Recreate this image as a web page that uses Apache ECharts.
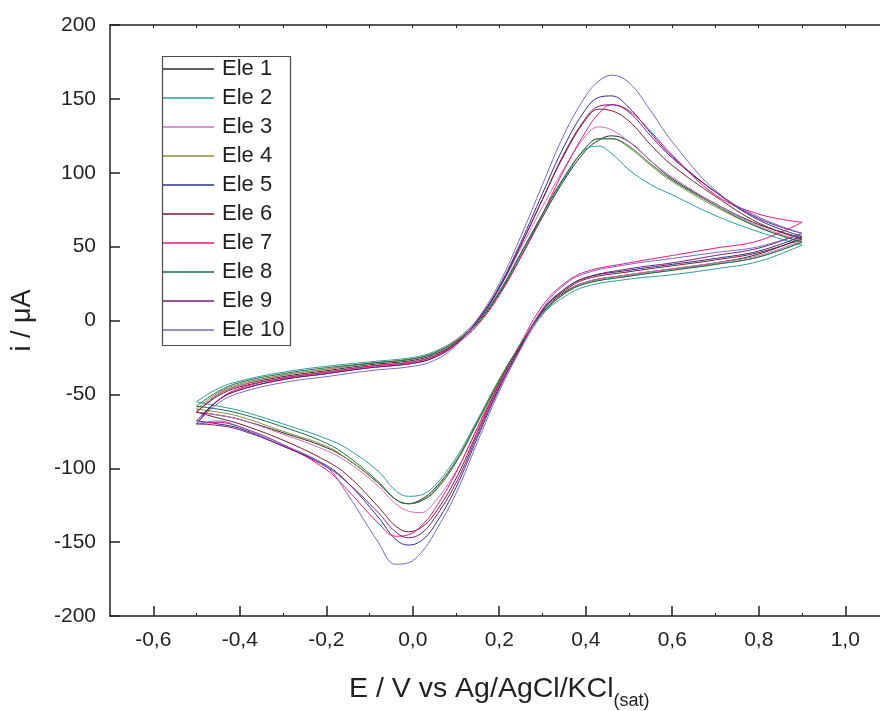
<!DOCTYPE html>
<html><head><meta charset="utf-8">
<script src="https://cdn.jsdelivr.net/npm/echarts@6/dist/echarts.min.js"></script>
<style>html,body{margin:0;padding:0;background:#fff}#c{width:880px;height:711px}</style>
</head><body><div id="c"></div>
<script>
// Potential grids (V) for forward (anodic) and reverse (cathodic) sweeps
const fwdE = [-0.5,-0.45,-0.4,-0.3,-0.2,-0.1,0,0.05,0.1,0.15,0.2,0.25,0.3,0.35,0.4,0.43,0.46,0.5,0.55,0.6,0.7,0.8,0.9];
const revE = [0.9,0.8,0.7,0.6,0.5,0.4,0.35,0.3,0.25,0.2,0.15,0.1,0.05,0.02,-0.01,-0.04,-0.08,-0.15,-0.2,-0.3,-0.4,-0.45,-0.5];

// Currents (µA)
const ele1Fwd = [-62,-50,-44,-38,-34,-30,-27,-23,-15,-2,18,43,70,95,115,122,125,121,108,96,79,65,56];
const ele1Rev = [56,45,39,35,31,26,19,6,-16,-40,-68,-95,-114,-121,-124,-121,-110,-94,-86,-76,-67,-64,-62];
const ele2Fwd = [-55,-46,-41,-35,-31,-28,-25,-21,-13,0,20,46,72,96,116,118,113,102,92,85,71,60,51];
const ele2Rev = [51,40,35,31,28,23,16,4,-17,-40,-67,-93,-112,-118,-119,-115,-102,-87,-80,-70,-61,-58,-55];
const ele3Fwd = [-62,-50,-44,-37,-33,-29,-26,-22,-13,1,22,49,77,103,125,131,129,121,108,97,79,64,54];
const ele3Rev = [54,44,39,35,31,26,18,4,-19,-44,-73,-102,-123,-130,-129,-124,-112,-96,-88,-77,-67,-64,-62];
const ele4Fwd = [-60,-49,-43,-37,-33,-29,-26,-22,-14,-1,19,45,72,97,117,123,123,117,105,94,77,63,53];
const ele4Rev = [53,43,38,34,30,25,18,5,-16,-40,-68,-95,-115,-122,-124,-121,-110,-94,-85,-75,-65,-62,-60];
const ele5Fwd = [-68,-54,-47,-40,-36,-32,-29,-25,-16,0,23,53,86,118,143,151,152,144,127,111,87,68,57];
const ele5Rev = [57,47,42,38,34,29,21,7,-18,-46,-79,-113,-139,-149,-152,-148,-133,-110,-98,-85,-73,-70,-68];
const ele6Fwd = [-62,-51,-45,-39,-35,-31,-28,-24,-15,0,22,51,82,112,136,143,142,135,119,105,84,66,55];
const ele6Rev = [55,46,41,37,33,28,20,7,-17,-43,-75,-107,-131,-140,-143,-139,-126,-105,-95,-81,-70,-66,-62];
const ele7Fwd = [-70,-54,-46,-39,-35,-31,-28,-24,-16,-3,17,43,72,102,128,140,146,142,128,112,85,72,66.5];
const ele7Rev = [66.5,54,49,44,39,33,25,10,-15,-42,-72,-103,-128,-139,-145,-146,-137,-115,-101,-84,-72,-69,-70];
const ele8Fwd = [-58,-48,-42,-36,-32,-29,-26,-22,-14,-1,19,45,72,97,117,123,123,118,106,95,78,63,53];
const ele8Rev = [53,43,38,34,30,25,18,5,-16,-41,-69,-96,-116,-122,-124,-121,-109,-92,-83,-72,-63,-60,-58];
const ele9Fwd = [-70,-54,-47,-40,-36,-32,-29,-25,-16,0,22,51,82,113,137,145,146,141,125,110,87,69,59];
const ele9Rev = [59,49,44,39,35,29,21,7,-18,-45,-77,-110,-134,-144,-147,-143,-130,-110,-99,-85,-74,-71,-70];
const ele10Fwd = [-70,-56,-49,-42,-38,-34,-31,-27,-17,1,25,57,92,126,152,162,166,161,142,121,88,70,59];
const ele10Rev = [59,50,46,42,38,32,24,8,-19,-48,-82,-117,-144,-157,-164,-165,-150,-118,-99,-84,-72,-68,-70];

const names = ['Ele 1','Ele 2','Ele 3','Ele 4','Ele 5','Ele 6','Ele 7','Ele 8','Ele 9','Ele 10'];
const colors = ['#2b2b2b','#2a9d9d','#d16fc0','#8c8c3a','#2e2e8c','#7d1a2a','#f0147c','#1a6e46','#7a1a7a','#7a66c0'];
const fwdSets = [ele1Fwd,ele2Fwd,ele3Fwd,ele4Fwd,ele5Fwd,ele6Fwd,ele7Fwd,ele8Fwd,ele9Fwd,ele10Fwd];
const revSets = [ele1Rev,ele2Rev,ele3Rev,ele4Rev,ele5Rev,ele6Rev,ele7Rev,ele8Rev,ele9Rev,ele10Rev];

const xMajor = [-0.6,-0.4,-0.2,0,0.2,0.4,0.6,0.8,1.0];
const xMinor = [-0.5,-0.3,-0.1,0.1,0.3,0.5,0.7,0.9];

const FONT = '"Liberation Sans", Arial, sans-serif';
const AX = '#231f20';

const series = [];
names.forEach((n, s) => {
  const base = { name: n, type: 'line', showSymbol: false, smooth: 0.4,
    lineStyle: { width: 1, color: colors[s] }, itemStyle: { color: colors[s] }, z: 2 };
  series.push(Object.assign({}, base, { data: fwdE.map((e, k) => [e, fwdSets[s][k]]) }));
  series.push(Object.assign({}, base, { data: revE.map((e, k) => [e, revSets[s][k]]) }));
});

const chart = echarts.init(document.getElementById('c'), null, { renderer: 'canvas' });
chart.setOption({
  animation: false,
  backgroundColor: '#fff',
  grid: { left: 110, top: 25, right: -8.5, bottom: 95, containLabel: false, outerBoundsMode: 'none' },
  xAxis: [
    {
      type: 'value', position: 'bottom', min: -0.7, max: 1.1,
      axisLine: { show: true, onZero: false, lineStyle: { color: AX, width: 1.5 } },
      axisTick: { show: true, inside: true, length: 10, customValues: xMajor, lineStyle: { color: AX, width: 1.5 } },
      axisLabel: { customValues: xMajor, margin: 14, fontSize: 21, color: '#231f20', fontFamily: FONT,
        formatter: v => v.toFixed(1).replace('.', ',') },
      splitLine: { show: false },
      name: '{m|E / V vs Ag/AgCl/KCl}{s|(sat)}', nameLocation: 'middle', nameGap: 59,
      nameTextStyle: { rich: {
        m: { fontSize: 28.5, lineHeight: 28, fontFamily: FONT, color: '#231f20', verticalAlign: 'top' },
        s: { fontSize: 18, lineHeight: 18, fontFamily: FONT, color: '#231f20', verticalAlign: 'top', padding: [17, 0, 0, 0] }
      } }
    },
    {
      type: 'value', position: 'bottom', min: -0.7, max: 1.1,
      axisLine: { show: false, onZero: false },
      axisTick: { show: true, inside: true, length: 3, customValues: xMinor, lineStyle: { color: AX, width: 1 } },
      axisLabel: { show: false }, splitLine: { show: false }
    },
    {
      type: 'value', position: 'top', min: -0.7, max: 1.1,
      axisLine: { show: true, onZero: false, lineStyle: { color: AX, width: 1.5 } },
      axisTick: { show: true, inside: true, length: 3, customValues: xMajor.concat(xMinor), lineStyle: { color: AX, width: 1 } },
      axisLabel: { show: false }, splitLine: { show: false }
    }
  ],
  yAxis: {
    type: 'value', min: -200, max: 200, interval: 50,
    axisLine: { show: true, onZero: false, lineStyle: { color: AX, width: 1.5 } },
    axisTick: { show: true, inside: true, length: 10, lineStyle: { color: AX, width: 1.5 } },
    axisLabel: { margin: 14, fontSize: 21, color: '#231f20', fontFamily: FONT },
    splitLine: { show: false },
    name: 'i / μA', nameLocation: 'middle', nameGap: 74,
    nameTextStyle: { fontSize: 27, color: '#231f20', fontFamily: FONT }
  },
  legend: {
    orient: 'vertical', left: 162, top: 58, icon: 'rect', itemWidth: 52, itemHeight: 1.5,
    itemGap: 7, padding: 0,
    textStyle: { fontSize: 22, color: '#231f20', fontFamily: FONT, padding: [0, 0, 0, 3] },
    data: names
  },
  graphic: [{ type: 'rect', left: 160, top: 54, z: 100, silent: true,
    shape: { width: 128, height: 289 }, style: { fill: 'none', stroke: '#4a4a4a', lineWidth: 1.2 } }],
  series: series
});
</script></body></html>
